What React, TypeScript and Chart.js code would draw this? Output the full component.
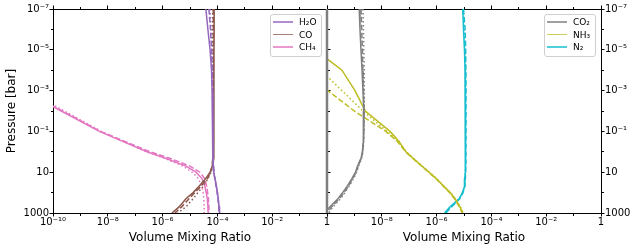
import React, { useEffect, useRef } from "react";
import { Chart, registerables } from "chart.js";

Chart.register(...registerables);
Chart.defaults.font.family = "'DejaVu Sans', sans-serif";
Chart.defaults.color = "#000";

// ---------- data ----------
const pressure = [1e-7, 1e-6, 1e-5, 1e-4, 1e-3, 1e-2, 0.1, 0.3, 1, 2, 5, 10, 20, 50, 100, 200, 500, 1000];

const leftSpecies = ["H₂O", "CO", "CH₄"];
const rightSpecies = ["CO₂", "NH₃", "N₂"];

const h2oSolid = [3.8e-5, 4.5e-5, 5.4e-5, 6.1e-5, 6.4e-5, 6.6e-5, 6.8e-5, 6.8e-5, 6.8e-5, 6.9e-5, 7.0e-5, 7.3e-5, 8.1e-5, 9.3e-5, 1.0e-4, 1.07e-4, 1.15e-4, 1.2e-4];
const h2oDashed = [4.9e-5, 5.6e-5, 6.1e-5, 6.4e-5, 6.6e-5, 6.7e-5, 6.8e-5, 6.9e-5, 6.9e-5, 7.0e-5, 7.1e-5, 7.4e-5, 8.0e-5, 9.0e-5, 9.8e-5, 1.05e-4, 1.12e-4, 1.16e-4];
const h2oDotted = [5.3e-5, 5.9e-5, 6.3e-5, 6.6e-5, 6.8e-5, 6.9e-5, 7.0e-5, 7.0e-5, 7.0e-5, 7.1e-5, 7.2e-5, 7.5e-5, 8.2e-5, 9.2e-5, 1.0e-4, 1.08e-4, 1.14e-4, 1.18e-4];

const coSolid = [7.6e-5, 7.6e-5, 7.5e-5, 7.5e-5, 7.5e-5, 7.5e-5, 7.5e-5, 7.5e-5, 7.4e-5, 7.1e-5, 6.6e-5, 5.4e-5, 3.8e-5, 2.1e-5, 1.3e-5, 7.1e-6, 4.0e-6, 2.2e-6];
const coDashed = [7.1e-5, 7.1e-5, 7.1e-5, 7.1e-5, 7.1e-5, 7.1e-5, 7.1e-5, 7.1e-5, 7.0e-5, 6.8e-5, 6.4e-5, 5.6e-5, 4.4e-5, 2.5e-5, 1.5e-5, 9.2e-6, 5.0e-6, 2.8e-6];
const coDotted = [6.7e-5, 6.8e-5, 6.8e-5, 6.9e-5, 6.9e-5, 6.9e-5, 6.9e-5, 6.9e-5, 6.9e-5, 6.8e-5, 6.5e-5, 5.9e-5, 4.6e-5, 3.0e-5, 1.95e-5, 1.3e-5, 7.1e-6, 3.6e-6];

const ch4Solid = [null, null, null, null, 7.8e-12, 2.0e-10, 4.9e-9, 3.3e-8, 2.7e-7, 1.22e-6, 7.1e-6, 1.66e-5, 2.7e-5, 3.5e-5, 3.9e-5, 4.3e-5, 4.5e-5, 4.6e-5];
const ch4Dashed = [null, null, null, null, 8.5e-12, 2.2e-10, 5.5e-9, 4.0e-8, 3.5e-7, 1.7e-6, 1.0e-5, 2.3e-5, 3.4e-5, 4.1e-5, 4.4e-5, 4.7e-5, 4.9e-5, 5.0e-5];
const ch4Dotted = [null, null, null, null, 1.1e-11, 2.6e-10, 5.8e-9, 3.5e-8, 2.6e-7, 1.1e-6, 5.5e-6, 1.2e-5, 2.0e-5, 2.7e-5, 3.0e-5, 3.2e-5, 3.3e-5, 3.3e-5];

const co2Floor = [1e-10, 1e-10, 1e-10, 1e-10, 1e-10, 1e-10, 1e-10, 1e-10, 1e-10, 1e-10, 1e-10, 1e-10, 1e-10, 1e-10, 1e-10, 1e-10, 1e-10, 1e-10];
const co2Solid = [1.5e-9, 1.6e-9, 1.74e-9, 1.9e-9, 2.05e-9, 2.2e-9, 2.15e-9, 2.1e-9, 1.95e-9, 1.75e-9, 1.3e-9, 1.1e-9, 8.2e-10, 5.4e-10, 3.7e-10, 2.5e-10, 1.29e-10, 8e-11];
const co2Dashed = [1.75e-9, 1.85e-9, 1.95e-9, 2.05e-9, 2.15e-9, 2.25e-9, 2.2e-9, 2.15e-9, 2.0e-9, 1.8e-9, 1.38e-9, 1.15e-9, 8.8e-10, 5.9e-10, 4.2e-10, 2.8e-10, 1.46e-10, 1.0e-10];
const co2Dotted = [2.05e-9, 2.15e-9, 2.2e-9, 2.3e-9, 2.3e-9, 2.3e-9, 2.25e-9, 2.2e-9, 2.05e-9, 1.85e-9, 1.45e-9, 1.2e-9, 9.4e-10, 6.4e-10, 4.5e-10, 3.1e-10, 1.66e-10, 1.18e-10];

const nh3Solid = [null, null, 3.8e-11, 3.5e-10, 1.05e-9, 2.5e-9, 2.0e-8, 4.2e-8, 7.6e-8, 1.35e-7, 2.9e-7, 5.3e-7, 9.5e-7, 1.86e-6, 3.1e-6, 4.7e-6, 7.1e-6, 9.1e-6];
const nh3Dashed = [null, null, null, 1.1e-11, 1.07e-10, 9.9e-10, 1.4e-8, 3.6e-8, 7.4e-8, 1.3e-7, 2.8e-7, 5.1e-7, 9.2e-7, 1.8e-6, 3.0e-6, 4.5e-6, 6.8e-6, 8.6e-6];
const nh3Dotted = [null, null, null, 6e-11, 3.5e-10, 2.06e-9, 1.55e-8, 3.9e-8, 7.8e-8, 1.38e-7, 3.0e-7, 5.5e-7, 9.8e-7, 1.9e-6, 3.2e-6, 4.9e-6, 7.4e-6, 9.4e-6];

const n2Solid = [9.0e-6, 9.6e-6, 1.04e-5, 1.09e-5, 1.1e-5, 1.12e-5, 1.13e-5, 1.13e-5, 1.13e-5, 1.13e-5, 1.12e-5, 1.1e-5, 1.07e-5, 1.04e-5, 8.8e-6, 6.6e-6, 3.1e-6, 1.95e-6];
const n2Dashed = [9.6e-6, 1.1e-5, 1.15e-5, 1.17e-5, 1.18e-5, 1.18e-5, 1.18e-5, 1.18e-5, 1.18e-5, 1.18e-5, 1.17e-5, 1.15e-5, 1.12e-5, 1.08e-5, 9.2e-6, 7.0e-6, 3.5e-6, 2.2e-6];
const n2Dotted = [9.3e-6, 1.0e-5, 1.08e-5, 1.12e-5, 1.14e-5, 1.15e-5, 1.15e-5, 1.15e-5, 1.15e-5, 1.15e-5, 1.14e-5, 1.12e-5, 1.09e-5, 1.06e-5, 8.9e-6, 6.8e-6, 3.3e-6, 2.0e-6];

const xTickValues = [1e-10, 1e-9, 1e-8, 1e-7, 1e-6, 1e-5, 1e-4, 1e-3, 1e-2, 1e-1, 1];
const xLabelValues = [1e-10, 1e-8, 1e-6, 1e-4, 1e-2, 1];
const yTickValues = [1e-7, 1e-6, 1e-5, 1e-4, 1e-3, 1e-2, 1e-1, 1, 10, 100, 1000];
const yLabelValues = [1e-7, 1e-5, 1e-3, 1e-1, 10, 1000];

// ---------- styles ----------
const COLORS = {
  h2o: "#9467bd",
  co: "#8c564b",
  ch4: "#e377c2",
  co2: "#7f7f7f",
  nh3: "#bcbd22",
  n2: "#17becf",
};

const near = (a: number, b: number) => Math.abs(Math.log10(a) - Math.log10(b)) < 1e-6;
const inList = (v: number, list: number[]) => list.some((t) => near(v, t));

const SUP: Record<string, string> = { "-": "⁻", "0": "⁰", "1": "¹", "2": "²", "3": "³", "4": "⁴", "5": "⁵", "6": "⁶", "7": "⁷", "8": "⁸", "9": "⁹" };
function logLabel(v: number): string {
  const e = Math.round(Math.log10(v));
  if (e === 0) return "1";
  if (e === 1) return "10";
  if (e === 2) return "100";
  if (e === 3) return "1000";
  return "10" + String(e).split("").map((c) => SUP[c]).join("");
}

type Style = "solid" | "dashed" | "dotted";
function series(values: (number | null)[], color: string, style: Style, opts: any = {}) {
  const data: { x: number; y: number }[] = [];
  values.forEach((v, i) => {
    if (v != null) data.push({ x: v, y: pressure[i] });
  });
  return {
    data,
    borderColor: color,
    backgroundColor: color,
    borderWidth: 1.5,
    borderDash: style === "dashed" ? [5.5, 2.4] : style === "dotted" ? [1.5, 2.5] : [],
    pointRadius: 0,
    pointHoverRadius: 0,
    fill: false,
    tension: 0,
    clip: 0,
    xAxisID: "x",
    yAxisID: "y",
    ...opts,
  };
}

function gridOpts(outerFirst: boolean, majors: number[]) {
  return {
    display: true,
    drawOnChartArea: false,
    drawTicks: true,
    tickLength: 3.5,
    tickWidth: 1,
    tickColor: "#000",
    tickBorderDash: (ctx: any) => {
      const v = ctx && ctx.tick ? ctx.tick.value : null;
      if (v == null || inList(v, majors)) return [];
      return outerFirst ? [0, 1.5, 2, 20] : [2, 20];
    },
  };
}

const border = { display: true, color: "#000", width: 1 };

function xScale(position: "top" | "bottom", showLabels: boolean, hideFirst: boolean) {
  return {
    type: "logarithmic",
    position,
    min: 1e-10,
    max: 1,
    afterBuildTicks: (s: any) => {
      s.ticks = xTickValues.map((v) => ({ value: v }));
    },
    afterFit: (s: any) => {
      s.height = position === "bottom" ? 37 : 9;
    },
    grid: gridOpts(position === "top", xLabelValues),
    border,
    ticks: {
      display: showLabels,
      autoSkip: false,
      maxRotation: 0,
      minRotation: 0,
      padding: 0,
      color: "#000",
      font: { size: 10 },
      callback: (v: any) => {
        const n = Number(v);
        if (hideFirst && near(n, 1e-10)) return "";
        return inList(n, xLabelValues) ? logLabel(n) : "";
      },
    },
    title:
      position === "bottom"
        ? { display: true, text: "Volume Mixing Ratio", color: "#000", font: { size: 12 }, padding: { top: 0, bottom: 5 } }
        : { display: false },
  };
}

function yScale(position: "left" | "right", showLabels: boolean, width: number, withTitle: boolean) {
  return {
    type: "logarithmic",
    position,
    reverse: true,
    min: 1e-7,
    max: 1000,
    afterBuildTicks: (s: any) => {
      s.ticks = yTickValues.map((v) => ({ value: v }));
    },
    afterFit: (s: any) => {
      s.width = width;
    },
    grid: gridOpts(position === "left", yLabelValues),
    border,
    ticks: {
      display: showLabels,
      autoSkip: false,
      padding: 0.5,
      color: "#000",
      font: { size: 10 },
      callback: (v: any) => {
        const n = Number(v);
        return inList(n, yLabelValues) ? logLabel(n) : "";
      },
    },
    title: withTitle
      ? { display: true, text: "Pressure [bar]", color: "#000", font: { size: 12 }, padding: { top: 5, bottom: 0 } }
      : { display: false },
  };
}

function leftConfig(): any {
  return {
    type: "line",
    data: {
      datasets: [
        series(h2oSolid, COLORS.h2o, "solid"),
        series(h2oDashed, COLORS.h2o, "dashed"),
        series(h2oDotted, COLORS.h2o, "dotted"),
        series(coSolid, COLORS.co, "solid"),
        series(coDashed, COLORS.co, "dashed"),
        series(coDotted, COLORS.co, "dotted"),
        series(ch4Solid, COLORS.ch4, "solid"),
        series(ch4Dashed, COLORS.ch4, "dashed"),
        series(ch4Dotted, COLORS.ch4, "dotted"),
      ],
    },
    options: {
      animation: false,
      responsive: false,
      maintainAspectRatio: false,
      devicePixelRatio: 1,
      events: [],
      layout: { padding: 0 },
      plugins: { legend: { display: false }, tooltip: { enabled: false } },
      scales: {
        x: xScale("bottom", true, false),
        xTop: xScale("top", false, false),
        y: yScale("left", true, 53, true),
        yRight: yScale("right", false, 4, false),
      },
    },
  };
}

function rightConfig(): any {
  return {
    type: "line",
    data: {
      datasets: [
        series(co2Floor, COLORS.co2, "solid", { borderWidth: 2.5, clip: false }),
        series(co2Solid, COLORS.co2, "solid"),
        series(co2Dashed, COLORS.co2, "dashed"),
        series(co2Dotted, COLORS.co2, "dotted"),
        series(nh3Solid, COLORS.nh3, "solid"),
        series(nh3Dashed, COLORS.nh3, "dashed"),
        series(nh3Dotted, COLORS.nh3, "dotted"),
        series(n2Solid, COLORS.n2, "solid"),
        series(n2Dashed, COLORS.n2, "dashed"),
        series(n2Dotted, COLORS.n2, "dotted"),
      ],
    },
    options: {
      animation: false,
      responsive: false,
      maintainAspectRatio: false,
      devicePixelRatio: 1,
      events: [],
      layout: { padding: { left: 7, right: 0, top: 0, bottom: 0 } },
      plugins: { legend: { display: false }, tooltip: { enabled: false } },
      scales: {
        x: xScale("bottom", true, true),
        xTop: xScale("top", false, false),
        y: yScale("right", true, 38, false),
      },
    },
  };
}

function Legend({ left, labels, colors, widths }: { left: number; labels: string[]; colors: string[]; widths: number[] }) {
  const rows = [7, 19.5, 32];
  return (
    <div
      style={{
        position: "absolute",
        left,
        top: 14,
        width: 52,
        height: 43,
        boxSizing: "border-box",
        border: "1px solid #cfcfcf",
        borderRadius: 3,
        background: "rgba(255,255,255,0.8)",
        fontFamily: "'DejaVu Sans', sans-serif",
        fontSize: 9,
        color: "#000",
      }}
    >
      {labels.map((lab, i) => (
        <React.Fragment key={lab}>
          <div
            style={{
              position: "absolute",
              left: 2,
              top: rows[i] - widths[i] / 2,
              width: 20,
              height: widths[i],
              background: colors[i],
              opacity: 0.75,
            }}
          />
          <span style={{ position: "absolute", left: 28, top: rows[i] - 6, lineHeight: "12px", whiteSpace: "nowrap" }}>{lab}</span>
        </React.Fragment>
      ))}
    </div>
  );
}

export default function App() {
  const leftRef = useRef<HTMLCanvasElement>(null);
  const rightRef = useRef<HTMLCanvasElement>(null);
  useEffect(() => {
    const c1 = new Chart(leftRef.current as HTMLCanvasElement, leftConfig());
    const c2 = new Chart(rightRef.current as HTMLCanvasElement, rightConfig());
    return () => {
      c1.destroy();
      c2.destroy();
    };
  }, []);
  return (
    <div style={{ position: "absolute", left: 0, top: 0, width: 639, height: 250, background: "#fff", overflow: "hidden" }}>
      <canvas ref={leftRef} width={331} height={250} style={{ position: "absolute", left: 0, top: 0 }} />
      <canvas ref={rightRef} width={319} height={250} style={{ position: "absolute", left: 320, top: 0 }} />
      <Legend left={270} labels={leftSpecies} colors={[COLORS.h2o, COLORS.co, COLORS.ch4]} widths={[1.5, 1.5, 1.5]} />
      <Legend left={544} labels={rightSpecies} colors={[COLORS.co2, COLORS.nh3, COLORS.n2]} widths={[1.5, 1.5, 2]} />
    </div>
  );
}
